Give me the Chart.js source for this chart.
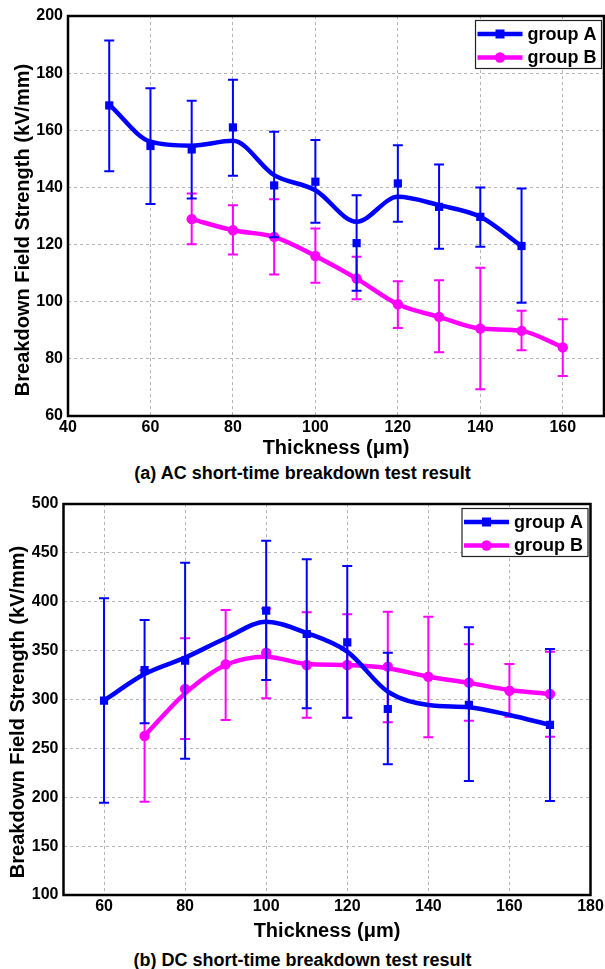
<!DOCTYPE html>
<html>
<head>
<meta charset="utf-8">
<script src="https://cdn.jsdelivr.net/npm/chart.js@4.4.1/dist/chart.umd.min.js"></script>
<style>
  html, body { margin: 0; padding: 0; background: #fff; }
  body { width: 605px; height: 969px; position: relative; overflow: hidden; font-family: "Liberation Sans", Arial, sans-serif; }
  .panel { position: absolute; left: 0; width: 605px; }
  .cap { position: absolute; left: 0; width: 605px; text-align: center; font-weight: bold; font-size: 18px; color: #000; line-height: 20px; }
</style>
</head>
<body>
<div class="panel" style="top:0; height:462px;"><canvas id="acChart"></canvas></div>
<div class="cap" style="top:463px;">(a) AC short-time breakdown test result</div>
<div class="panel" style="top:490px; height:455px;"><canvas id="dcChart"></canvas></div>
<div class="cap" style="top:950px;">(b) DC short-time breakdown test result</div>

<script>
// (a) AC short-time breakdown, group A
const acThickA = [50, 60, 70, 80, 90, 100, 110, 120, 130, 140, 150];
const acMeanA  = [168.7, 154.5, 153.3, 161, 140.7, 142, 120.5, 141.4, 133.2, 129.7, 119.5];
const acHighA  = [191.4, 174.7, 170.3, 177.7, 159.5, 156.6, 137.3, 154.8, 148, 140, 139.6];
const acLowA   = [145.7, 134.2, 136.1, 144.1, 122.6, 127.6, 103.8, 128, 118.5, 119.2, 99.6];
const acCurveA = [169, 156, 154.6, 156.3, 144.3, 139, 128, 136.7, 133.8, 129.7, 119.4];

// (a) AC, group B
const acThickB = [70, 80, 90, 100, 110, 120, 130, 140, 150, 160];
const acMeanB  = [128.9, 125, 122.7, 116, 108.1, 99.1, 94.7, 90.6, 89.8, 84];
const acHighB  = [137.9, 133.8, 135.9, 125.6, 115.7, 107.2, 107.5, 111.9, 96.8, 93.9];
const acLowB   = [120.1, 116.5, 109.5, 106.6, 100.9, 90.8, 82.3, 69.4, 83, 74];

const acXTicks = [40, 60, 80, 100, 120, 140, 160];
const acYTicks = [60, 80, 100, 120, 140, 160, 180, 200];

// (b) DC short-time breakdown, group A
const dcThickA = [60, 70, 80, 100, 110, 120, 130, 150, 170];
const dcMeanA  = [298.8, 330, 339.7, 390.9, 367, 358.5, 290.3, 294.4, 274];
const dcHighA  = [403.5, 381.3, 440, 462.5, 443.4, 436.6, 347.9, 373.8, 351.7];
const dcLowA   = [194.4, 275.6, 239.5, 320, 291, 281.4, 233.7, 216.6, 196.2];
const dcCurveThickA = [60, 70, 80, 90, 100, 110, 120, 130, 140, 150, 160, 170];
const dcCurveA = [299, 326, 342.8, 362.6, 379.6, 368, 349, 308, 294.4, 292, 284.1, 274];

// (b) DC, group B
const dcThickB = [70, 80, 90, 100, 110, 120, 130, 140, 150, 160, 170];
const dcMeanB  = [262.7, 310.7, 336, 347.9, 335.3, 335.3, 333.6, 323.3, 317.2, 309, 305.6];
const dcHighB  = [330, 362.6, 391.6, 393, 389.2, 387.2, 389.8, 384.7, 356.5, 336.3, 348.9];
const dcLowB   = [195.5, 259.6, 279, 301.2, 281.4, 281.4, 276.7, 261.3, 278.3, 282.4, 262];
const dcCurveB = [263, 306.3, 335.3, 343.8, 336.3, 335.3, 332, 323.3, 317, 309.7, 305.6];

const dcXTicks = [60, 80, 100, 120, 140, 160, 180];
const dcYTicks = [100, 150, 200, 250, 300, 350, 400, 450, 500];

const BLUE = "#0000ff";
const MAGENTA = "#ff00ff";
const FONT = '"Liberation Sans", Arial, sans-serif';

Chart.defaults.font.family = FONT;
Chart.defaults.color = "#000";

function pts(xs, ys) {
  return xs.map((x, i) => ({ x: x, y: ys[i] }));
}

// curve dataset + marker dataset for one group
function groupSets(label, color, style, curveXs, curveYs, xs, ys, order) {
  return [
    {
      label: label,
      data: pts(curveXs, curveYs),
      borderColor: color,
      borderWidth: 4.5,
      pointRadius: 0,
      cubicInterpolationMode: "monotone",
      fill: false,
      order: order + 1
    },
    {
      label: label + " points",
      data: pts(xs, ys),
      showLine: false,
      pointStyle: style,
      pointRadius: style === "rect" ? 5.8 : 5.2,
      backgroundColor: color,
      borderColor: color,
      borderWidth: 0,
      order: order
    }
  ];
}

// error bars drawn just before each group's curve
function errorBarPlugin(groups) {
  return {
    id: "errorBars",
    beforeDatasetDraw(chart, args) {
      const g = groups.find(gr => gr.index === args.index);
      if (!g) return;
      const { ctx, scales: { x, y } } = chart;
      ctx.save();
      ctx.strokeStyle = g.color;
      ctx.lineWidth = 2;
      g.xs.forEach((v, i) => {
        const px = x.getPixelForValue(v);
        const yH = y.getPixelForValue(g.high[i]);
        const yL = y.getPixelForValue(g.low[i]);
        ctx.beginPath();
        ctx.moveTo(px, yH); ctx.lineTo(px, yL);
        ctx.moveTo(px - 5, yH); ctx.lineTo(px + 5, yH);
        ctx.moveTo(px - 5, yL); ctx.lineTo(px + 5, yL);
        ctx.stroke();
      });
      ctx.restore();
    }
  };
}

// frame, rotated y title and boxed legend
function decorPlugin(cfg) {
  return {
    id: "decor",
    afterDraw(chart) {
      const { ctx, chartArea: a } = chart;
      ctx.save();
      ctx.strokeStyle = "#000";
      ctx.lineWidth = 2.5;
      ctx.strokeRect(a.left, a.top, a.right - a.left, a.bottom - a.top);

      // y title
      ctx.save();
      ctx.translate(cfg.titleX, (a.top + a.bottom) / 2 + cfg.titleDy);
      ctx.rotate(-Math.PI / 2);
      ctx.font = "bold 20px " + FONT;
      ctx.fillStyle = "#000";
      ctx.textAlign = "center";
      ctx.textBaseline = "middle";
      ctx.fillText("Breakdown Field Strength (kV/mm)", 0, 0);
      ctx.restore();

      // legend
      ctx.font = "bold 18px " + FONT;
      const tw = Math.max(...cfg.legend.map(l => ctx.measureText(l.text).width));
      const boxW = 2 + 45 + 5 + tw + 5;
      const boxH = 48;
      const bx = a.right - 2.5 - boxW;
      const by = a.top + 4.5;
      ctx.fillStyle = "#fff";
      ctx.fillRect(bx, by, boxW, boxH);
      ctx.strokeStyle = "#222";
      ctx.lineWidth = 1.2;
      ctx.strokeRect(bx, by, boxW, boxH);
      cfg.legend.forEach((l, i) => {
        const ly = by + 13.5 + i * 23.5;
        const x0 = bx + 2;
        ctx.strokeStyle = l.color;
        ctx.lineWidth = 4.5;
        ctx.beginPath();
        ctx.moveTo(x0, ly); ctx.lineTo(x0 + 45, ly);
        ctx.stroke();
        ctx.fillStyle = l.color;
        if (l.style === "rect") {
          ctx.fillRect(x0 + 22.5 - 4.5, ly - 4.5, 9, 9);
        } else {
          ctx.beginPath();
          ctx.arc(x0 + 22.5, ly, 5.2, 0, Math.PI * 2);
          ctx.fill();
        }
        ctx.fillStyle = "#000";
        ctx.textAlign = "left";
        ctx.textBaseline = "middle";
        ctx.fillText(l.text, x0 + 50, ly + 1);
      });
      ctx.restore();
    }
  };
}

function axes(xMin, xMax, xTicks, yMin, yMax, yTicks, yWidth, xHeight) {
  const grid = { color: "#b5b5b5", lineWidth: 1, drawTicks: false };
  const border = { display: false, dash: [3, 3] };
  const tickFont = { size: 16, weight: "bold" };
  return {
    x: {
      type: "linear",
      min: xMin, max: xMax,
      grid: grid, border: border,
      ticks: { font: tickFont, padding: 2, maxRotation: 0, color: "#000" },
      afterBuildTicks: s => { s.ticks = xTicks.map(v => ({ value: v })); },
      afterFit: s => { s.height = xHeight; s.paddingLeft = 0; s.paddingRight = 0; },
      title: { display: true, text: "Thickness (\u03bcm)", font: { size: 20, weight: "bold" }, color: "#000", padding: { top: 0, bottom: 1.5 } }
    },
    y: {
      type: "linear",
      min: yMin, max: yMax,
      grid: grid, border: border,
      ticks: { font: tickFont, padding: 5, color: "#000" },
      afterBuildTicks: s => { s.ticks = yTicks.map(v => ({ value: v })); },
      afterFit: s => { s.width = yWidth; s.paddingTop = 0; s.paddingBottom = 0; }
    }
  };
}

const baseOptions = {
  responsive: true,
  maintainAspectRatio: false,
  animation: false,
  plugins: { legend: { display: false }, tooltip: { enabled: false } }
};

// (a) AC chart
const acSets = groupSets("group A", BLUE, "rect", acThickA, acCurveA, acThickA, acMeanA, 0)
  .concat(groupSets("group B", MAGENTA, "circle", acThickB, acMeanB, acThickB, acMeanB, 2));

new Chart(document.getElementById("acChart"), {
  type: "line",
  data: { datasets: acSets },
  options: Object.assign({}, baseOptions, {
    layout: { autoPadding: false, padding: { top: 16, left: 0, right: 1, bottom: 0 } },
    scales: axes(40, 170, acXTicks, 60, 200, acYTicks, 68, 46)
  }),
  plugins: [
    errorBarPlugin([
      { index: 0, color: BLUE, xs: acThickA, high: acHighA, low: acLowA },
      { index: 2, color: MAGENTA, xs: acThickB, high: acHighB, low: acLowB }
    ]),
    decorPlugin({
      titleX: 23, titleDy: 14,
      legend: [
        { text: "group A", color: BLUE, style: "rect" },
        { text: "group B", color: MAGENTA, style: "circle" }
      ]
    })
  ]
});

// (b) DC chart
const dcSets = groupSets("group A", BLUE, "rect", dcCurveThickA, dcCurveA, dcThickA, dcMeanA, 0)
  .concat(groupSets("group B", MAGENTA, "circle", dcThickB, dcCurveB, dcThickB, dcMeanB, 2));

new Chart(document.getElementById("dcChart"), {
  type: "line",
  data: { datasets: dcSets },
  options: Object.assign({}, baseOptions, {
    layout: { autoPadding: false, padding: { top: 14, left: 0, right: 14.5, bottom: 0 } },
    scales: axes(50, 180, dcXTicks, 100, 500, dcYTicks, 63.5, 50)
  }),
  plugins: [
    errorBarPlugin([
      { index: 0, color: BLUE, xs: dcThickA, high: dcHighA, low: dcLowA },
      { index: 2, color: MAGENTA, xs: dcThickB, high: dcHighB, low: dcLowB }
    ]),
    decorPlugin({
      titleX: 18.5, titleDy: 12.5,
      legend: [
        { text: "group A", color: BLUE, style: "rect" },
        { text: "group B", color: MAGENTA, style: "circle" }
      ]
    })
  ]
});
</script>
</body>
</html>
